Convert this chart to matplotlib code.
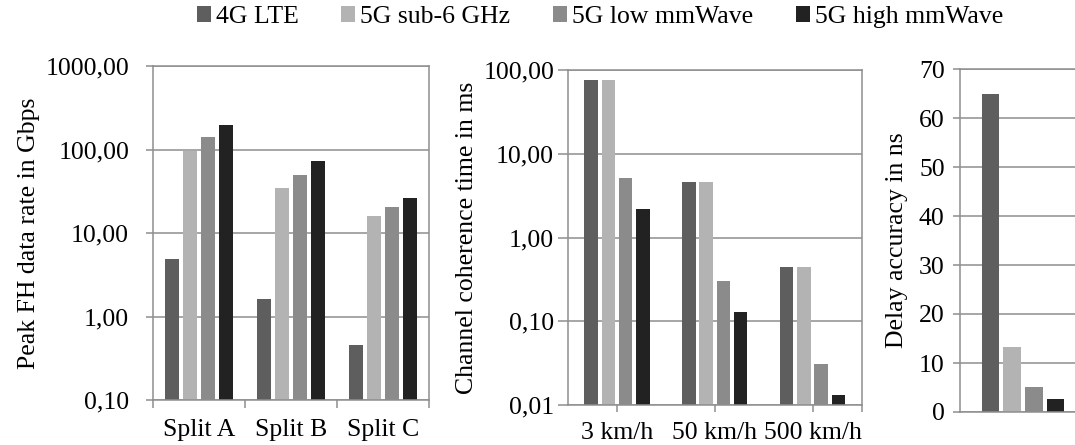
import matplotlib
matplotlib.use("Agg")
import matplotlib.pyplot as plt
from matplotlib.ticker import NullLocator, FixedLocator
from matplotlib.patches import Patch
import numpy as np

plt.rcParams['font.family'] = ['Liberation Serif', 'DejaVu Serif']
plt.rcParams['font.size'] = 18.5

series = ["4G LTE", "5G sub-6 GHz", "5G low mmWave", "5G high mmWave"]
colors = ["#5e5e5e", "#b3b3b3", "#8b8b8b", "#222222"]

splits = ["Split A", "Split B", "Split C"]
fh_rate = {
    "4G LTE": [4.9, 1.6, 0.45],
    "5G sub-6 GHz": [95, 35, 16.2],
    "5G low mmWave": [142, 50, 20.6],
    "5G high mmWave": [196, 72, 26],
}
fh_ticks = [0.1, 1, 10, 100, 1000]
fh_ticklabels = ["0,10", "1,00", "10,00", "100,00", "1000,00"]

speeds = ["3 km/h", "50 km/h", "500 km/h"]
coherence = {
    "4G LTE": [76, 4.6, 0.45],
    "5G sub-6 GHz": [76, 4.6, 0.45],
    "5G low mmWave": [5.1, 0.30, 0.031],
    "5G high mmWave": [2.2, 0.13, 0.013],
}
coh_ticks = [0.01, 0.1, 1, 10, 100]
coh_ticklabels = ["0,01", "0,10", "1,00", "10,00", "100,00"]

delay = {
    "4G LTE": 65,
    "5G sub-6 GHz": 13.3,
    "5G low mmWave": 5.2,
    "5G high mmWave": 2.6,
}
delay_ticks = [0, 10, 20, 30, 40, 50, 60, 70]

GRID = "#8e8e8e"
W, H = 1075, 445
fig = plt.figure(figsize=(W / 100, H / 100), dpi=100)

def px_axes(x0, x1, ytop, ybot):
    return fig.add_axes([x0 / W, (H - ybot) / H, (x1 - x0) / W, (ybot - ytop) / H])

def style(ax):
    ax.set_axisbelow(True)
    ax.yaxis.grid(True, color=GRID, lw=1.1)
    for s in ax.spines.values():
        s.set_color(GRID)
        s.set_linewidth(1.1)

# Left panel
ax1 = px_axes(152.7, 429.3, 66, 400)
style(ax1)
step, bw = 0.196, 0.154
x = np.arange(len(splits))
for i, s in enumerate(series):
    ax1.bar(x + (i - 1.5) * step, fh_rate[s], width=bw, color=colors[i], zorder=2)
ax1.set_yscale('log')
ax1.set_ylim(0.1, 1000)
ax1.yaxis.set_major_locator(FixedLocator(fh_ticks))
ax1.set_yticklabels(fh_ticklabels)
ax1.yaxis.set_minor_locator(NullLocator())
ax1.set_xlim(-0.5, 2.5)
ax1.set_xticks([-0.5, 0.5, 1.5, 2.5])
ax1.set_xticklabels([])
ax1.set_xticks(x, minor=True)
ax1.set_xticklabels(splits, minor=True)
ax1.tick_params(axis='x', which='major', length=6, color=GRID, width=1.1)
ax1.tick_params(axis='x', which='minor', length=0, pad=14)
ax1.tick_params(axis='y', length=5, color=GRID, width=1.1, pad=12)
ax1.set_ylabel("Peak FH data rate in Gbps", labelpad=4)

# Middle panel
ax2 = px_axes(568, 861.5, 70, 405)
style(ax2)
step, bw = 0.177, 0.138
x = np.arange(len(speeds))
for i, s in enumerate(series):
    ax2.bar(x + (i - 1.5) * step, coherence[s], width=bw, color=colors[i], zorder=2)
ax2.set_yscale('log')
ax2.set_ylim(0.01, 100)
ax2.yaxis.set_major_locator(FixedLocator(coh_ticks))
ax2.set_yticklabels(coh_ticklabels)
ax2.yaxis.set_minor_locator(NullLocator())
ax2.set_xlim(-0.5, 2.5)
ax2.set_xticks([0, 1, 2, 2.5])
ax2.set_xticklabels(speeds + [""])
ax2.xaxis.set_minor_locator(NullLocator())
ax2.tick_params(axis='x', length=5, color=GRID, width=1.1, pad=7)
ax2.tick_params(axis='y', length=7, color=GRID, width=1.1, pad=3)
ax2.set_ylabel("Channel coherence time in ms", labelpad=4)

# Right panel
ax3 = px_axes(960, 1086, 69, 412)
style(ax3)
step, bw = 0.172, 0.14
for i, s in enumerate(series):
    ax3.bar([(i - 1.5) * step], [delay[s]], width=bw, color=colors[i], zorder=2)
ax3.set_ylim(0, 70)
ax3.set_yticks(delay_ticks)
ax3.set_xlim(-0.5, 0.5)
ax3.set_xticks([])
ax3.tick_params(axis='y', length=5, color=GRID, width=1.1, pad=6)
ax3.set_ylabel("Delay accuracy in ns", labelpad=8)

handles = [Patch(facecolor=c, edgecolor='none') for c in colors]
fig.legend(handles, series, loc='center', bbox_to_anchor=(0.558, 0.962), ncol=4,
           frameon=False, handlelength=0.55, handleheight=0.55, handletextpad=0.2,
           columnspacing=1.65, borderpad=0, borderaxespad=0)

fig.savefig("out.png", dpi=100)
